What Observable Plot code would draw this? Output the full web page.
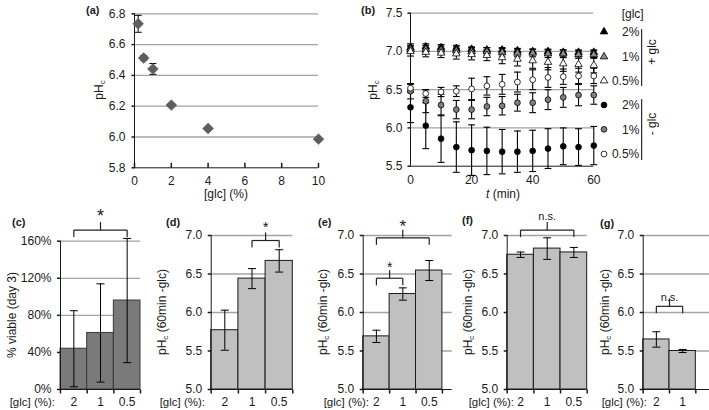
<!DOCTYPE html>
<html><head><meta charset="utf-8">
<script src="https://cdn.jsdelivr.net/npm/d3@7"></script>
<script src="https://cdn.jsdelivr.net/npm/@observablehq/plot@0.6"></script>
<style>
body{margin:0;background:#fff}
#root{position:relative;width:709px;height:410px;overflow:hidden;font-family:"Liberation Sans",Arial,sans-serif}
#root svg{position:absolute;left:0;top:0;overflow:visible}
</style>
</head><body><div id="root"></div>
<script>
// ---------------- data ----------------
// (a) steady-state pHc vs glucose
const glcA = [0.2, 0.5, 1, 2, 4, 10];
const phA = [6.735, 6.513, 6.442, 6.207, 6.055, 5.986];
const errA = [0.055, 0.015, 0.035, 0.01, 0.01, 0.01];
const yTicksA = [5.8, 6.0, 6.2, 6.4, 6.6, 6.8];
const xTicksA = [0, 2, 4, 6, 8, 10];

// (b) pHc time course
const timeB = [0, 5, 10, 15, 20, 25, 30, 35, 40, 45, 50, 55, 60];
const plus2 = [7.05, 7.06, 7.05, 7.04, 7.03, 7.02, 7.02, 7.01, 7.00, 7.00, 6.99, 6.99, 6.99];
const plus2Err = [0.05, 0.04, 0.04, 0.04, 0.03, 0.03, 0.03, 0.03, 0.03, 0.03, 0.03, 0.03, 0.03];
const plus1 = [7.03, 7.03, 7.02, 7.01, 7.00, 7.00, 6.99, 6.98, 6.98, 6.97, 6.97, 6.96, 6.96];
const plus1Err = [0.05, 0.05, 0.05, 0.05, 0.05, 0.05, 0.05, 0.05, 0.05, 0.05, 0.05, 0.05, 0.05];
const plus05 = [7.00, 6.99, 6.98, 6.97, 6.96, 6.95, 6.92, 6.90, 6.88, 6.86, 6.84, 6.83, 6.82];
const plus05Err = [0.06, 0.06, 0.06, 0.07, 0.07, 0.07, 0.08, 0.09, 0.10, 0.10, 0.10, 0.10, 0.10];
const minus2 = [6.27, 6.03, 5.86, 5.75, 5.71, 5.70, 5.69, 5.69, 5.70, 5.73, 5.76, 5.75, 5.77];
const minus2Err = [0.20, 0.30, 0.31, 0.33, 0.33, 0.31, 0.29, 0.27, 0.27, 0.26, 0.24, 0.24, 0.25];
const minus1 = [6.48, 6.35, 6.30, 6.24, 6.24, 6.28, 6.29, 6.33, 6.33, 6.37, 6.40, 6.43, 6.43];
const minus1Err = [0.10, 0.15, 0.14, 0.12, 0.12, 0.12, 0.12, 0.11, 0.13, 0.13, 0.13, 0.14, 0.12];
const minus05 = [6.52, 6.45, 6.47, 6.48, 6.51, 6.55, 6.57, 6.60, 6.63, 6.66, 6.67, 6.68, 6.68];
const minus05Err = [0.05, 0.05, 0.06, 0.07, 0.14, 0.12, 0.13, 0.13, 0.13, 0.13, 0.10, 0.10, 0.10];
const seriesB = ["+glc 2%", "+glc 1%", "+glc 0.5%", "-glc 2%", "-glc 1%", "-glc 0.5%"];
const legendB = ["2%", "1%", "0.5%", "2%", "1%", "0.5%"];
const yTicksB = [5.5, 6.0, 6.5, 7.0, 7.5];
const xTicksB = [0, 20, 40, 60];

// (c)-(g) bar panels
const catsC = ["2", "1", "0.5"];
const viableC = [44, 61, 96];
const viableErrC = [41, 53, 67];
const catsD = ["2", "1", "0.5"];
const phD = [5.77, 6.44, 6.67];
const phErrD = [0.26, 0.13, 0.145];
const catsE = ["2", "1", "0.5"];
const phE = [5.69, 6.24, 6.545];
const phErrE = [0.08, 0.08, 0.13];
const catsF = ["2", "1", "0.5"];
const phF = [6.75, 6.83, 6.78];
const phErrF = [0.035, 0.14, 0.065];
const catsG = ["2", "1"];
const phG = [5.65, 5.50];
const phErrG = [0.10, 0.02];
const yTicksPct = [0, 40, 80, 120, 160];
const yTicksPh = [5.0, 5.5, 6.0, 6.5, 7.0];
const bracketsC = [{from: 0, to: 2, level: 172, label: "*"}];
const bracketsD = [{from: 1, to: 2, level: 6.935, label: "*"}];
const bracketsE = [{from: 0, to: 2, level: 6.97, label: "*"}, {from: 0, to: 1, level: 6.445, label: "*"}];
const bracketsF = [{from: 0, to: 2, level: 7.07, label: "n.s."}];
const bracketsG = [{from: 0, to: 1, level: 6.08, label: "n.s."}];

// ---------------- helpers ----------------
const W = 709, H = 410;
const FONT = "'Liberation Sans', Arial, sans-serif";
const GRID = "#a3a3a3";
const AXIS = "#1a1a1a";
const root = document.getElementById("root");
const baseStyle = {font: `12px ${FONT}`, background: "transparent", overflow: "visible", color: "#1a1a1a"};

function frame(x0, y0, x1, y1) {
  return {width: W, height: H, marginLeft: x0, marginTop: y0, marginRight: W - x1, marginBottom: H - y1};
}
const lineSym = (fn) => ({draw(ctx, size) { const w = Math.sqrt(size / Math.PI); fn(ctx, w); }});
const cap = lineSym((c, w) => { c.moveTo(-w, 0); c.lineTo(w, 0); });
const tickDown = lineSym((c, w) => { c.moveTo(0, 0); c.lineTo(0, w); });
const tickUp = lineSym((c, w) => { c.moveTo(0, 0); c.lineTo(0, -w); });
const tickLeft = lineSym((c, w) => { c.moveTo(0, 0); c.lineTo(-w, 0); });

function errorMarks(data, x, capR, sw = 1) {
  return [
    Plot.ruleX(data, {x, y1: d => d.v - d.e, y2: d => d.v + d.e, stroke: "#000", strokeWidth: sw}),
    Plot.dot(data, {x, y: d => d.v + d.e, symbol: cap, r: capR, stroke: "#000", fill: "none", strokeWidth: sw}),
    Plot.dot(data, {x, y: d => d.v - d.e, symbol: cap, r: capR, stroke: "#000", fill: "none", strokeWidth: sw})
  ];
}

// ---------------- (a) ----------------
const dataA = glcA.map((g, i) => ({g, v: phA[i], e: errA[i]}));
root.append(Plot.plot({
  ...frame(134, 13.3, 318, 167.3),
  style: baseStyle,
  x: {domain: [0, 10]},
  y: {domain: [5.8, 6.8]},
  marks: [
    Plot.ruleY(yTicksA.slice(1), {stroke: GRID, strokeWidth: 1.3}),
    Plot.ruleY([5.8], {stroke: AXIS}),
    Plot.ruleX([0], {stroke: AXIS}),
    Plot.axisY({ticks: yTicksA, tickSize: 0, tickPadding: 9, tickFormat: d => d.toFixed(1), label: null, fontSize: 12}),
    Plot.dot(yTicksA, {y: d => d, frameAnchor: "left", symbol: tickLeft, r: 3, stroke: AXIS}),
    Plot.axisX({ticks: xTicksA, tickSize: 0, tickPadding: 9, label: null, fontSize: 12}),
    Plot.dot(xTicksA, {x: d => d, frameAnchor: "bottom", symbol: tickUp, r: 5, stroke: AXIS}),
    ...errorMarks(dataA, "g", 3.5),
    Plot.dot(dataA, {x: "g", y: "v", symbol: "diamond2", r: 4.9, fill: "#5e5e5e", stroke: "#6a6a6a", strokeWidth: 0.6})
  ]
}));

// ---------------- (b) ----------------
const valsB = [plus2, plus1, plus05, minus2, minus1, minus05];
const errsB = [plus2Err, plus1Err, plus05Err, minus2Err, minus1Err, minus05Err];
const dataB = seriesB.flatMap((s, k) => timeB.map((t, i) => ({s, t, v: valsB[k][i], e: errsB[k][i]})));
const symB = {"+glc 2%": "triangle", "+glc 1%": "triangle", "+glc 0.5%": "triangle", "-glc 2%": "circle", "-glc 1%": "circle", "-glc 0.5%": "circle"};
const fillB = {"+glc 2%": "#000", "+glc 1%": "#8c8c8c", "+glc 0.5%": "#fff", "-glc 2%": "#000", "-glc 1%": "#808080", "-glc 0.5%": "#fff"};
const drawOrderB = ["-glc 2%", "-glc 1%", "-glc 0.5%", "+glc 2%", "+glc 1%", "+glc 0.5%"];
const markerB = (s) => Plot.dot(dataB.filter(d => d.s === s), {x: "t", y: "v", symbol: symB[s], r: symB[s] === "circle" ? 2.9 : 2.8, fill: fillB[s], stroke: "#000", strokeWidth: 0.8});
root.append(Plot.plot({
  ...frame(410, 12.7, 593.3, 165.7),
  style: baseStyle,
  x: {domain: [0, 60]},
  y: {domain: [5.5, 7.5]},
  marks: [
    Plot.ruleY(yTicksB.slice(1), {stroke: GRID, strokeWidth: 1.3}),
    Plot.ruleY([5.5], {stroke: AXIS}),
    Plot.ruleX([0], {stroke: AXIS}),
    Plot.axisY({ticks: yTicksB, tickSize: 0, tickPadding: 8, tickFormat: d => d.toFixed(1), label: null, fontSize: 12}),
    Plot.dot(yTicksB, {y: d => d, frameAnchor: "left", symbol: tickLeft, r: 3, stroke: AXIS}),
    Plot.axisX({ticks: xTicksB, tickSize: 0, tickPadding: 9, label: null, fontSize: 12}),
    ...drawOrderB.flatMap(s => errorMarks(dataB.filter(d => d.s === s), "t", 3.4, 1.1)),
    ...drawOrderB.map(markerB)
  ]
}));

// ---------------- bar panels ----------------
function barPanel({x0, x1, y0, y1, cats, vals, errs, yDomain, yTicks, fmt, fill, stroke, xMax, brackets, labelOffsets, labelSizes}) {
  const data = cats.map((c, i) => ({c, i, v: vals[i], e: errs[i]}));
  const n = cats.length;
  const br = brackets.map((b, k) => ({...b, k, mid: (b.from + b.to) / 2 + 0.5}));
  const ends = br.flatMap(b => [{x: b.from + 0.5, y: b.level}, {x: b.to + 0.5, y: b.level}]);
  root.append(Plot.plot({
    ...frame(x0, y0, x1, y1),
    style: baseStyle,
    x: {domain: [0, xMax ?? n], axis: null},
    y: {domain: yDomain},
    marks: [
      Plot.ruleY(yTicks.slice(1), {stroke: GRID, strokeWidth: 1.3}),
      Plot.rect(data, {x1: d => d.i, x2: d => d.i + 1, y1: yDomain[0], y2: "v", fill, stroke, strokeWidth: 1}),
      Plot.ruleY([yDomain[0]], {stroke: AXIS}),
      Plot.ruleX([0], {stroke: AXIS}),
      Plot.axisY({ticks: yTicks, tickSize: 0, tickPadding: 9, tickFormat: fmt, label: null, fontSize: 12}),
      Plot.dot(yTicks, {y: d => d, frameAnchor: "left", symbol: tickLeft, r: 3.5, stroke: AXIS}),
      Plot.dot(d3.range(n + 1), {x: d => d, frameAnchor: "bottom", symbol: tickDown, r: 4, stroke: AXIS}),
      Plot.text(data, {x: d => d.i + 0.5, text: "c", frameAnchor: "bottom", dy: 8, lineAnchor: "top", fontSize: 12, fill: "#1a1a1a"}),
      ...errorMarks(data, d => d.i + 0.5, 4),
      Plot.link(br, {x1: d => d.from + 0.5, x2: d => d.to + 0.5, y1: "level", y2: "level", stroke: "#222", strokeWidth: 1.2}),
      Plot.dot(ends, {x: "x", y: "y", symbol: tickDown, r: 7, stroke: "#222", strokeWidth: 1.2}),
      Plot.dot(br, {x: "mid", y: "level", symbol: tickUp, r: 8, stroke: "#222", strokeWidth: 1.2}),
      ...br.map(b => Plot.text([b], {x: "mid", y: "level", text: "label", dy: labelOffsets[b.k], fontSize: labelSizes[b.k], fill: "#1a1a1a"}))
    ]
  }));
}

barPanel({x0: 60, x1: 140, y0: 240.7, y1: 389, cats: catsC, vals: viableC, errs: viableErrC,
  yDomain: [0, 160], yTicks: yTicksPct, fmt: d => d + "%", fill: "#7a7a7a", stroke: "#3a3a3a",
  brackets: bracketsC, labelOffsets: [-13.5], labelSizes: [18]});
barPanel({x0: 210.7, x1: 292.3, y0: 235, y1: 389, cats: catsD, vals: phD, errs: phErrD,
  yDomain: [5, 7], yTicks: yTicksPh, fmt: d => d.toFixed(1), fill: "#c0c0c0", stroke: "#1a1a1a",
  brackets: bracketsD, labelOffsets: [-13], labelSizes: [15]});
barPanel({x0: 362.7, x1: 451.7, y0: 235, y1: 389, cats: catsE, vals: phE, errs: phErrE, xMax: 3.37,
  yDomain: [5, 7], yTicks: yTicksPh, fmt: d => d.toFixed(1), fill: "#c0c0c0", stroke: "#1a1a1a",
  brackets: bracketsE, labelOffsets: [-11.5, -10.5], labelSizes: [17, 14]});
barPanel({x0: 506.7, x1: 586.7, y0: 235, y1: 389, cats: catsF, vals: phF, errs: phErrF,
  yDomain: [5, 7], yTicks: yTicksPh, fmt: d => d.toFixed(1), fill: "#c0c0c0", stroke: "#1a1a1a",
  brackets: bracketsF, labelOffsets: [-14], labelSizes: [11]});
barPanel({x0: 642.7, x1: 709, y0: 235, y1: 389, cats: catsG, vals: phG, errs: phErrG, xMax: 2.52,
  yDomain: [5, 7], yTicks: yTicksPh, fmt: d => d.toFixed(1), fill: "#c0c0c0", stroke: "#1a1a1a",
  brackets: bracketsG, labelOffsets: [-9], labelSizes: [11]});

// ---------------- overlay text & legend ----------------
const ov = d3.select(root).append("svg").attr("width", W).attr("height", H)
  .style("font-family", FONT).style("font-size", "12px").attr("fill", "#1a1a1a");

function txt(x, y, s, opts = {}) {
  const t = ov.append("text").attr("x", x).attr("y", y).text(s)
    .attr("text-anchor", opts.anchor || "start");
  if (opts.bold) t.attr("font-weight", "bold");
  if (opts.size) t.attr("font-size", opts.size);
  return t;
}
function rotPh(x, y, rest) {
  const t = ov.append("text").attr("transform", `translate(${x},${y}) rotate(-90)`)
    .attr("text-anchor", "middle").attr("dominant-baseline", "central");
  t.append("tspan").text("pH");
  t.append("tspan").text("c").attr("font-size", 8).attr("dy", 3);
  if (rest) t.append("tspan").text(rest).attr("dy", -3);
  return t;
}
function rot(x, y, s) {
  return ov.append("text").attr("transform", `translate(${x},${y}) rotate(-90)`)
    .attr("text-anchor", "middle").attr("dominant-baseline", "central").text(s);
}

// panel letters
[["(a)", 86, 14], ["(b)", 361, 14], ["(c)", 12, 226], ["(d)", 166, 226], ["(e)", 318, 226], ["(f)", 462, 224], ["(g)", 600, 227]]
  .forEach(([s, x, y]) => txt(x, y, s, {bold: true, size: 11}));

// axis titles
rotPh(98.5, 90);
txt(226, 198, "[glc] (%)", {anchor: "middle"});
rotPh(372.5, 90);
const tt = ov.append("text").attr("x", 503).attr("y", 198).attr("text-anchor", "middle");
tt.append("tspan").text("t").attr("font-style", "italic");
tt.append("tspan").text(" (min)");

rot(11.7, 315, "% viable (day 3)");
rotPh(161.5, 312, " (60min -glc)");
rotPh(323, 312, " (60min -glc)");
rotPh(468, 312, " (60min -glc)");
rotPh(605, 312, " (60min -glc)");

// category prefixes
[[55, 406], [205, 406], [369, 406], [514, 406], [647, 406]]
  .forEach(([x, y]) => txt(x, y, "[glc] (%):", {anchor: "end", size: 11.5}));

// legend for (b)
txt(632.7, 18, "[glc]", {anchor: "middle"});
const legY = [31.7, 56.7, 80.7, 105, 129.3, 154];
seriesB.forEach((s, k) => {
  const sym = symB[s] === "circle" ? d3.symbolCircle : d3.symbolTriangle;
  const r = symB[s] === "circle" ? 2.9 : 2.8;
  ov.append("path").attr("d", d3.symbol(sym, Math.PI * r * r)())
    .attr("transform", `translate(604,${legY[k]})`)
    .attr("fill", fillB[s]).attr("stroke", "#000").attr("stroke-width", 0.8);
  txt(639.3, legY[k] + 4.3, legendB[k], {anchor: "end"});
});
ov.append("line").attr("x1", 641.7).attr("x2", 641.7).attr("y1", 29).attr("y2", 86).attr("stroke", "#000");
ov.append("line").attr("x1", 641.7).attr("x2", 641.7).attr("y1", 99).attr("y2", 160).attr("stroke", "#000");
rot(652, 52, "+ glc");
rot(652, 124, "- glc");
</script>
</body></html>
